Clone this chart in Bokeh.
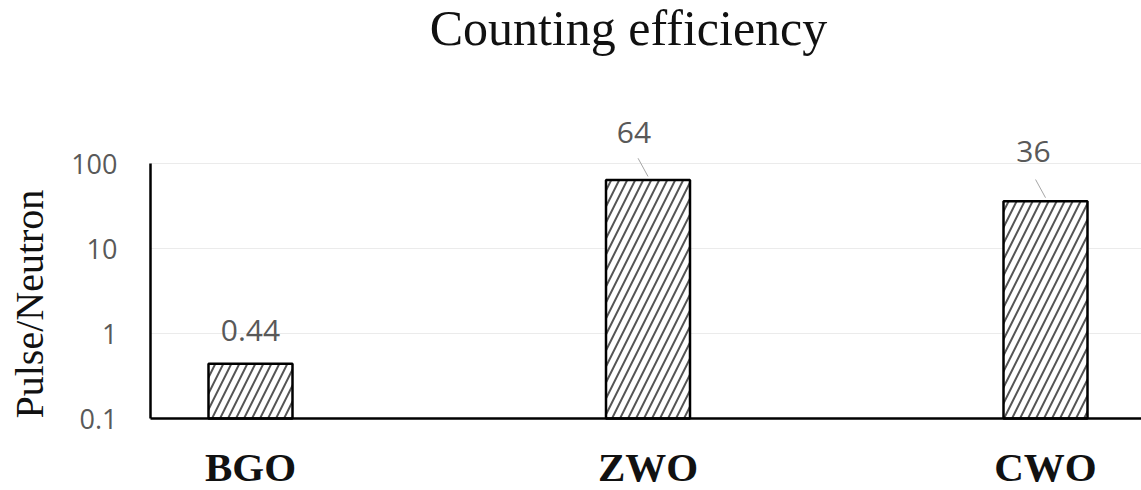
import math
from bokeh.plotting import figure
from bokeh.models import ColumnDataSource, Range1d, LabelSet
from bokeh.core.properties import value
from bokeh.embed import file_html
from bokeh.resources import INLINE

# ---- data ----
categories = ["BGO", "ZWO", "CWO"]
values = [0.44, 64, 36]
value_labels = ["0.44", "64", "36"]
y_ticks = [0.1, 1, 10, 100]
title_text = "Counting efficiency"
y_title = "Pulse/Neutron"

# ---- layout (pixels) ----
W, H = 1141, 490
CAT_PX = 397.5          # pixels per category step
FIRST_PX = 250          # centre of first bar
DEC_PX = 85             # pixels per decade
BASE_PY = 418           # pixel row of the baseline (first tick)
AXIS_PX = 150           # pixel column of the y axis

xs = list(range(len(categories)))
base = y_ticks[0]

x_start = -FIRST_PX / CAT_PX
x_end = x_start + W / CAT_PX


def px_x(px):
    return x_start + px / CAT_PX


def px_y(py):
    return base * 10 ** ((BASE_PY - py) / DEC_PX)


ax_x = px_x(AXIS_PX)

# label styling (pixel offsets) and leader-line flags
label_dx = [0, -14, -12]
label_dy = [33, 47, 50]
leader = [False, True, True]

src = ColumnDataSource(dict(x=xs, top=values, lab=value_labels,
                            dx=label_dx, dy=label_dy,
                            cat=categories, base=[base] * len(xs)))

tick_src = ColumnDataSource(dict(y=y_ticks, x=[ax_x] * len(y_ticks),
                                 t=[f"{t:g}" for t in y_ticks]))

title_src = ColumnDataSource(dict(x=[px_x(628)], y=[px_y(44)], t=[title_text]))
ytitle_src = ColumnDataSource(dict(x=[px_x(42)], y=[base], t=[y_title]))

p = figure(width=W, height=H, y_axis_type="log",
           x_range=Range1d(x_start, x_end),
           y_range=Range1d(px_y(H), px_y(0)),
           output_backend="svg", toolbar_location=None,
           min_border_left=0, min_border_right=0, min_border_top=0,
           min_border_bottom=0)
p.xaxis.visible = False
p.yaxis.visible = False
p.xgrid.visible = False
p.ygrid.visible = False
p.title.visible = False
p.outline_line_color = None
p.background_fill_color = "white"
p.border_fill_color = "white"

# gridlines
p.segment(x0=[ax_x] * len(y_ticks[1:]), y0=y_ticks[1:],
          x1=[x_end] * len(y_ticks[1:]), y1=y_ticks[1:],
          line_color="#ebebeb", line_width=1)

# bars
p.vbar(x="x", top="top", bottom=base, width=84 / CAT_PX, source=src,
       fill_color="white", line_color="black", line_width=2.5,
       hatch_pattern="right_diagonal_line", hatch_color="#555555",
       hatch_scale=16, hatch_weight=2)

# axis lines
p.segment(x0=[ax_x, ax_x], y0=[base, base], x1=[ax_x, x_end],
          y1=[y_ticks[-1], base], line_color="black", line_width=2.5)

# leader lines
lx0 = [x - 0.025 for x, f in zip(xs, leader) if f]
ly0 = [v * 1.8 for v, f in zip(values, leader) if f]
lx1 = [x for x, f in zip(xs, leader) if f]
ly1 = [v * 1.1 for v, f in zip(values, leader) if f]
p.segment(x0=lx0, y0=ly0, x1=lx1, y1=ly1, line_color="#a6a6a6", line_width=1)

# value labels
p.add_layout(LabelSet(x="x", y="top", text="lab", source=src,
                      x_offset="dx", y_offset="dy",
                      text_align="center", text_baseline="middle",
                      text_font=value("Open Sans"), text_font_size="30px",
                      text_color="#595959"))

# category labels
p.add_layout(LabelSet(x="x", y="base", text="cat", source=src,
                      y_offset=-62, text_align="center",
                      text_baseline="alphabetic",
                      text_font=value("Liberation Serif"), text_font_style="bold",
                      text_font_size="41px", text_color="#111111"))

# y tick labels
p.add_layout(LabelSet(x="x", y="y", text="t", source=tick_src,
                      x_offset=-33, text_align="right", text_baseline="middle",
                      text_font=value("Open Sans"), text_font_size="27px",
                      text_color="#595959"))

# y title
p.add_layout(LabelSet(x="x", y="y", text="t", source=ytitle_src,
                      angle=math.pi / 2, angle_units="rad", text_align="left",
                      text_baseline="alphabetic",
                      text_font=value("Liberation Serif"), text_font_size="40px",
                      text_color="#111111"))

# chart title
p.add_layout(LabelSet(x="x", y="y", text="t", source=title_src,
                      text_align="center", text_baseline="alphabetic",
                      text_font=value("Liberation Serif"), text_font_size="50px",
                      text_color="#111111"))

open("out.html", "w").write(file_html(p, INLINE))
